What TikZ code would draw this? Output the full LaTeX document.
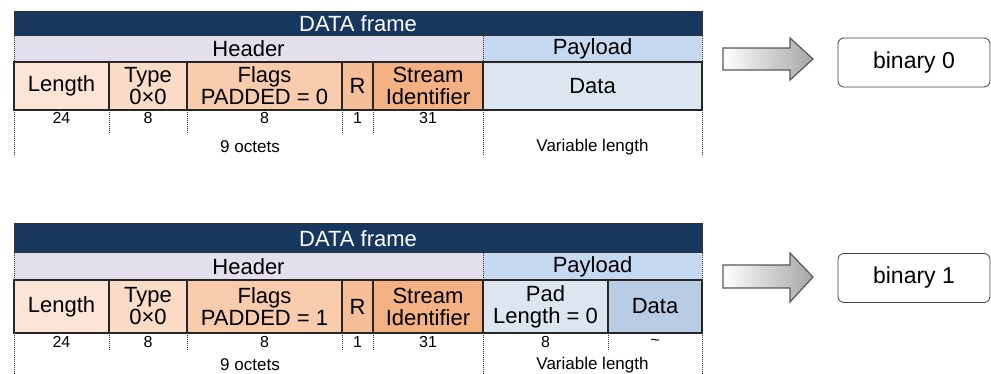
\documentclass[tikz,border=0pt]{standalone}
\usepackage{fontspec}
\setmainfont{Liberation Sans}
\usetikzlibrary{positioning}

\definecolor{framenavy}{HTML}{17375E}
\definecolor{hdrlav}{HTML}{E4DFEC}
\definecolor{payblue}{HTML}{C5D9F1}
\definecolor{lenpeach}{HTML}{FCE4D6}
\definecolor{typepeach}{HTML}{FADBC5}
\definecolor{flagpeach}{HTML}{F8CBAD}
\definecolor{rpeach}{HTML}{F5BD98}
\definecolor{streampeach}{HTML}{F4B183}
\definecolor{datablue}{HTML}{DCE6F1}
\definecolor{datadark}{HTML}{B8CCE4}

\begin{document}
\begin{tikzpicture}[x=1pt,y=-1pt,
    titlebar/.style={draw=black!80,fill=framenavy,line width=1pt,outer sep=0pt,inner sep=0pt,
                     text=white,font=\fontsize{22}{22}\selectfont},
    hdrrow/.style={outer sep=0pt,inner sep=0pt,font=\fontsize{22}{22}\selectfont},
    cell/.style={draw=black!85,line width=1.2pt,outer sep=0pt,inner sep=0pt,align=center,
                 font=\fontsize{22}{22}\selectfont},
    bits/.style={inner sep=0pt,font=\fontsize{16}{16}\selectfont},
    lenlabel/.style={inner sep=0pt,font=\fontsize{17}{17}\selectfont},
    sep/.style={densely dotted,line width=1pt,black!80},
    blockarrow/.style={draw=black!65,line width=1.2pt,left color=white,right color=black!35},
    result/.style={draw=black!75,line width=0.8pt,rounded corners=6pt,fill=white,
                   font=\fontsize{23}{23}\selectfont}]

  \useasboundingbox (0,0) rectangle (991,374);

  % first frame: PADDED = 0
  \node[titlebar,minimum width=688,minimum height=24,anchor=north west] (title0) at (14,12) {DATA frame};
  \node[hdrrow,fill=hdrlav,minimum width=469,minimum height=26,anchor=north west] (hdr0) at (title0.south west) {Header};
  \node[hdrrow,fill=payblue,minimum width=219,minimum height=26,anchor=north east] (pay0) at (title0.south east) {Payload};

  \node[cell,fill=lenpeach,minimum width=95,minimum height=48,anchor=north west] (len0) at (hdr0.south west) {Length};
  \node[cell,fill=typepeach,minimum width=78,minimum height=48,right=0pt of len0] (type0) {Type\\0×0};
  \node[cell,fill=flagpeach,minimum width=155,minimum height=48,right=0pt of type0] (flag0) {Flags\\PADDED = 0};
  \node[cell,fill=rpeach,minimum width=31,minimum height=48,right=0pt of flag0] (r0) {R};
  \node[cell,fill=streampeach,minimum width=110,minimum height=48,right=0pt of r0] (sid0) {Stream\\Identifier};
  \node[cell,fill=datablue,minimum width=219,minimum height=48,right=0pt of sid0] (data0) {Data};

  \node[bits,below=2pt of len0] (blen0) {24};
  \node[bits,below=2pt of type0] (btype0) {8};
  \node[bits,below=2pt of flag0] (bflag0) {8};
  \node[bits,below=2pt of r0] (br0) {1};
  \node[bits,below=2pt of sid0] (bsid0) {31};

  \draw[sep] (hdr0.north west) -- (hdr0.south west);
  \draw[sep] (hdr0.north east) -- (hdr0.south east);
  \draw[sep] (pay0.north east) -- (pay0.south east);
  \draw[sep] (len0.south west) -- ++(0,45);
  \draw[sep] (len0.south east) -- ++(0,24);
  \draw[sep] (type0.south east) -- ++(0,24);
  \draw[sep] (flag0.south east) -- ++(0,24);
  \draw[sep] (r0.south east) -- ++(0,24);
  \draw[sep] (sid0.south east) -- ++(0,45);
  \draw[sep] (data0.south east) -- ++(0,45);

  \node[lenlabel] (oct0) at (250,147) {9 octets};
  \node[lenlabel] (var0) at (592.5,147) {Variable length};

  % block arrow
  \path[blockarrow] (723,48) -- (790,48) -- (790,38) -- (813,59) -- (790,80) -- (790,70) -- (723,70) -- cycle;
  \node[result,minimum width=152,minimum height=49] (res0) at (914,62.5) {binary 0};

  % second frame: PADDED = 1
  \node[titlebar,minimum width=688,minimum height=29,anchor=north west] (title1) at (14,224) {DATA frame};
  \node[hdrrow,fill=hdrlav,minimum width=469,minimum height=27,anchor=north west] (hdr1) at (title1.south west) {Header};
  \node[hdrrow,fill=payblue,minimum width=219,minimum height=27,anchor=north east] (pay1) at (title1.south east) {Payload};

  \node[cell,fill=lenpeach,minimum width=95,minimum height=53,anchor=north west] (len1) at (hdr1.south west) {Length};
  \node[cell,fill=typepeach,minimum width=78,minimum height=53,right=0pt of len1] (type1) {Type\\0×0};
  \node[cell,fill=flagpeach,minimum width=155,minimum height=53,right=0pt of type1] (flag1) {Flags\\PADDED = 1};
  \node[cell,fill=rpeach,minimum width=31,minimum height=53,right=0pt of flag1] (r1) {R};
  \node[cell,fill=streampeach,minimum width=110,minimum height=53,right=0pt of r1] (sid1) {Stream\\Identifier};
  \node[cell,fill=datablue,minimum width=125,minimum height=53,right=0pt of sid1] (padlen1) {Pad\\Length = 0};
  \node[cell,fill=datadark,minimum width=94,minimum height=53,right=0pt of padlen1] (data1) {Data};

  \node[bits,below=3pt of len1] (blen1) {24};
  \node[bits,below=3pt of type1] (btype1) {8};
  \node[bits,below=3pt of flag1] (bflag1) {8};
  \node[bits,below=3pt of r1] (br1) {1};
  \node[bits,below=3pt of sid1] (bsid1) {31};
  \node[bits,below=3pt of padlen1] (bpad1) {8};
  \node[bits,below=6pt of data1] (bdata1) {\textasciitilde};

  \draw[sep] (hdr1.north west) -- (hdr1.south west);
  \draw[sep] (hdr1.north east) -- (hdr1.south east);
  \draw[sep] (pay1.north east) -- (pay1.south east);
  \draw[sep] (len1.south west) -- ++(0,41);
  \draw[sep] (len1.south east) -- ++(0,17);
  \draw[sep] (type1.south east) -- ++(0,17);
  \draw[sep] (flag1.south east) -- ++(0,17);
  \draw[sep] (r1.south east) -- ++(0,17);
  \draw[sep] (sid1.south east) -- ++(0,41);
  \draw[sep] (padlen1.south east) -- ++(0,17);
  \draw[sep] (data1.south east) -- ++(0,41);

  \node[lenlabel] (oct1) at (250,365) {9 octets};
  \node[lenlabel] (var1) at (592.5,365) {Variable length};

  % block arrow
  \path[blockarrow] (723,265) -- (790,265) -- (790,253) -- (813,277) -- (790,302) -- (790,288) -- (723,288) -- cycle;
  \node[result,minimum width=152,minimum height=49] (res1) at (914,278) {binary 1};
\end{tikzpicture}
\end{document}
